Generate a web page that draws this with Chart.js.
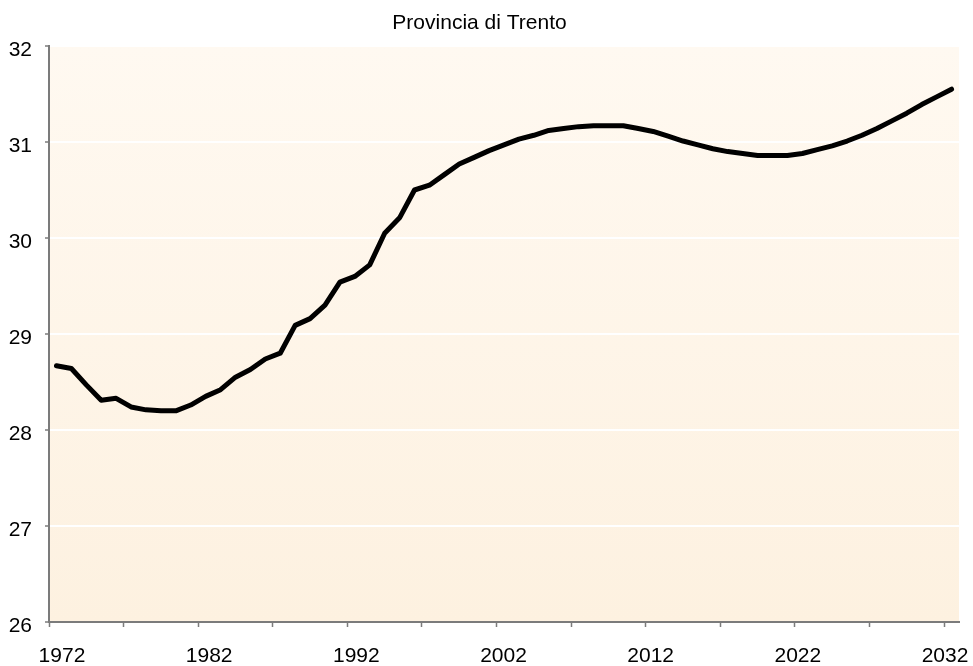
<!DOCTYPE html>
<html>
<head>
<meta charset="utf-8">
<script src="https://cdn.jsdelivr.net/npm/chart.js@4/dist/chart.umd.min.js"></script>
<style>
  html, body { margin: 0; padding: 0; background: #fff; }
  #wrap { width: 973px; height: 666px; }
</style>
</head>
<body>
<div id="wrap"><canvas id="chart" width="973" height="666"></canvas></div>
<script>
// anni 1972-2032
const years = [];
for (let y = 1972; y <= 2032; y++) years.push(String(y));

// valori
const values = [
  28.67, 28.64, 28.47, 28.31, 28.33, 28.24, 28.21, 28.20, 28.20, 28.26,
  28.35, 28.42, 28.55, 28.63, 28.74, 28.80, 29.09, 29.16, 29.30, 29.54,
  29.60, 29.72, 30.05, 30.21, 30.50, 30.55, 30.66, 30.77, 30.84, 30.91,
  30.97, 31.03, 31.07, 31.12, 31.14, 31.16, 31.17, 31.17, 31.17, 31.14,
  31.11, 31.06, 31.01, 30.97, 30.93, 30.90, 30.88, 30.86, 30.86, 30.86,
  30.88, 30.92, 30.96, 31.01, 31.07, 31.14, 31.22, 31.30, 31.39, 31.47,
  31.55
];

const yTicks = [26, 27, 28, 29, 30, 31, 32];
const title = "Provincia di Trento";

const axisGrey = "#7b7b7b";
const font = { family: "'Liberation Sans', Arial, sans-serif", size: 21 };

const plotBg = {
  id: "plotBg",
  beforeDraw(chart) {
    const { ctx, chartArea: a } = chart;
    const g = ctx.createLinearGradient(0, a.top, 0, a.bottom);
    g.addColorStop(0, "#fff9f1");
    g.addColorStop(1, "#fdf1e0");
    ctx.save();
    ctx.fillStyle = g;
    ctx.fillRect(a.left, a.top, a.right - a.left, a.bottom - a.top);
    ctx.restore();

    // le etichette dell'asse x sono un po' "compresse" verso il centro, come nell'originale
    const sx = chart.scales.x;
    const items = sx.getLabelItems(chart.chartArea);
    let k = 0;
    items.forEach(it => {
      if (!it.label) return;
      it.options.translation[0] += 5.5 - 2 * k;
      k++;
    });
  }
};

new Chart(document.getElementById("chart"), {
  type: "line",
  data: {
    labels: years,
    datasets: [{
      data: values,
      borderColor: "#000",
      borderWidth: 5,
      pointRadius: 0,
      tension: 0,
      borderJoinStyle: "round",
      borderCapStyle: "round",
      fill: false
    }]
  },
  options: {
    responsive: false,
    animation: false,
    layout: { padding: { left: 0, right: 14, top: 0, bottom: 0 } },
    plugins: {
      legend: { display: false },
      tooltip: { enabled: false },
      title: {
        display: true,
        text: title,
        color: "#000",
        font: { family: font.family, size: 21, weight: "normal", lineHeight: 1.2 },
        padding: { top: 10.5, bottom: 10.3 }
      }
    },
    scales: {
      x: {
        type: "category",
        offset: true,
        border: { display: true, color: axisGrey, width: 2 },
        grid: {
          offset: true,
          drawOnChartArea: false,
          drawTicks: true,
          tickLength: 5,
          tickWidth: 1.5,
          tickColor: ctx => (ctx.index % 5 === 0 ? axisGrey : "rgba(0,0,0,0)")
        },
        ticks: {
          autoSkip: false,
          maxRotation: 0,
          color: "#000",
          font,
          padding: 17,
          callback: (v, i) => (i % 10 === 0 ? years[i] : "")
        },
        afterFit: s => {
          s.height = 44;
          s.paddingLeft = 0;
          s.paddingRight = 0;
        }
      },
      y: {
        min: 26,
        max: 32,
        border: { display: true, color: axisGrey, width: 2 },
        grid: {
          color: "#ffffff",
          lineWidth: 2,
          drawTicks: true,
          tickLength: 4,
          tickColor: axisGrey,
          tickWidth: 1.5
        },
        ticks: {
          stepSize: 1,
          color: "#000",
          font,
          padding: 13,
          labelOffset: 4.5,
          callback: v => (yTicks.includes(v) ? String(v) : "")
        },
        afterFit: s => { s.width = 49; }
      }
    }
  },
  plugins: [plotBg]
});
</script>
</body>
</html>
